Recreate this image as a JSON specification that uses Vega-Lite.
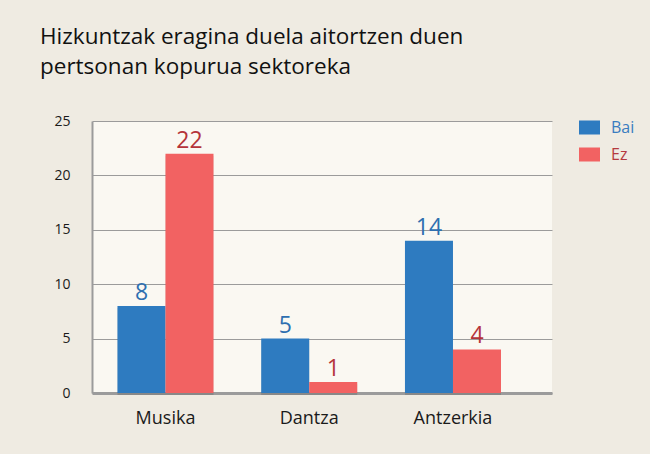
{
  "$schema": "https://vega.github.io/schema/vega-lite/v6.json",
  "autosize": {"type": "none"},
  "width": 460,
  "height": 272,
  "padding": {"left": 92, "top": 121, "right": 98, "bottom": 61},
  "background": "#efebe2",
  "title": {
    "text": ["Hizkuntzak eragina duela aitortzen duen", "pertsonan kopurua sektoreka"],
    "anchor": "start",
    "frame": "group",
    "dx": -52,
    "offset": 36,
    "font": "Open Sans",
    "fontSize": 22.5,
    "fontWeight": "normal",
    "color": "#111111",
    "lineHeight": 30
  },
  "config": {
    "view": {"fill": "#faf8f2", "stroke": null},
    "font": "Open Sans"
  },
  "resolve": {"scale": {"color": "independent"}},
  "data": {
    "values": [
      {"sektorea": "Musika", "erantzuna": "Bai", "kopurua": 8},
      {"sektorea": "Musika", "erantzuna": "Ez", "kopurua": 22},
      {"sektorea": "Dantza", "erantzuna": "Bai", "kopurua": 5},
      {"sektorea": "Dantza", "erantzuna": "Ez", "kopurua": 1},
      {"sektorea": "Antzerkia", "erantzuna": "Bai", "kopurua": 14},
      {"sektorea": "Antzerkia", "erantzuna": "Ez", "kopurua": 4}
    ]
  },
  "encoding": {
    "x": {
      "field": "sektorea",
      "type": "nominal",
      "sort": ["Musika", "Dantza", "Antzerkia"],
      "scale": {"paddingInner": 0.332, "paddingOuter": 0.266, "align": 0.333},
      "axis": {
        "title": null,
        "labelAngle": 0,
        "ticks": false,
        "domain": true,
        "domainColor": "#9b9b9b",
        "domainWidth": 3,
        "labelFontSize": 18,
        "labelColor": "#1a1a1a",
        "labelPadding": 16,
        "grid": false
      }
    },
    "xOffset": {
      "field": "erantzuna",
      "type": "nominal",
      "scale": {"paddingInner": 0, "paddingOuter": 0}
    },
    "y": {
      "field": "kopurua",
      "type": "quantitative",
      "scale": {"domain": [0, 25], "nice": false},
      "axis": {
        "title": null,
        "values": [0, 5, 10, 15, 20, 25],
        "ticks": false,
        "domain": true,
        "domainColor": "#9b9b9b",
        "domainWidth": 2,
        "grid": true,
        "gridColor": "#9b9b9b",
        "gridWidth": 1,
        "labelFontSize": 14,
        "labelColor": "#1a1a1a",
        "labelPadding": 22
      }
    }
  },
  "layer": [
    {
      "mark": {"type": "bar", "color": "#000000", "opacity": 0.12, "xOffset": 2, "yOffset": 2}
    },
    {
      "mark": {"type": "bar"},
      "encoding": {
        "color": {
          "field": "erantzuna",
          "type": "nominal",
          "scale": {"domain": ["Bai", "Ez"], "range": ["#2e7bc0", "#f26262"]},
          "legend": {
            "title": null,
            "orient": "none",
            "legendX": 487,
            "legendY": -4,
            "padding": 0,
            "symbolType": "M-1,-0.667H1V0.667H-1Z",
            "symbolSize": 441,
            "symbolStrokeWidth": 0,
            "labelFontSize": 16,
            "labelOffset": 11,
            "rowPadding": 8,
            "encode": {
              "labels": {
                "update": {
                  "fill": {"signal": "datum.label === 'Bai' ? '#3a7cc0' : '#b53a40'"}
                }
              }
            }
          }
        }
      }
    },
    {
      "mark": {"type": "text", "baseline": "alphabetic", "dy": -6, "fontSize": 23},
      "encoding": {
        "text": {"field": "kopurua", "type": "quantitative"},
        "color": {
          "field": "erantzuna",
          "type": "nominal",
          "scale": {"domain": ["Bai", "Ez"], "range": ["#2e6fb0", "#b5343a"]},
          "legend": null
        }
      }
    }
  ]
}
